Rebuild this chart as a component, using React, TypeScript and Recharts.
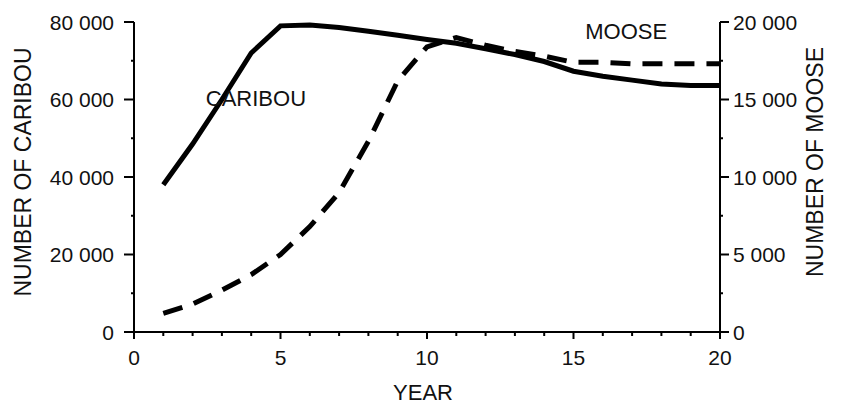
import { LineChart, Line, XAxis, YAxis, ReferenceDot } from 'recharts';

const years = [1, 2, 3, 4, 5, 6, 7, 8, 9, 10, 11, 12, 13, 14, 15, 16, 17, 18, 19, 20];
const caribou = [
  38000, 48500, 60000, 72000, 79000, 79200, 78600, 77600, 76600, 75500,
  74500, 73100, 71600, 69800, 67300, 66000, 65000, 64000, 63600, 63600,
];
const moose = [
  1200, 1800, 2700, 3700, 5000, 6800, 9000, 12300, 16200, 18400,
  19000, 18500, 18100, 17800, 17400, 17400, 17300, 17300, 17300, 17300,
];

const yearTicks = [0, 1, 2, 3, 4, 5, 6, 7, 8, 9, 10, 11, 12, 13, 14, 15, 16, 17, 18, 19, 20];
const caribouTicks = [0, 10000, 20000, 30000, 40000, 50000, 60000, 70000, 80000];
const mooseTicks = [0, 2500, 5000, 7500, 10000, 12500, 15000, 17500, 20000];

const data = years.map((year, i) => ({ year, caribou: caribou[i], moose: moose[i] }));

const FONT = '"Liberation Sans", Arial, Helvetica, sans-serif';

const fmt = (n: number) =>
  n >= 1000 ? `${Math.floor(n / 1000)} ${String(n % 1000).padStart(3, '0')}` : String(n);

const XTick = (props: any) => {
  const { x, y, payload } = props;
  const major = payload.value % 5 === 0;
  return (
    <g>
      <line x1={x} x2={x} y1={y} y2={y + (major ? 7 : 4)} stroke="#000" strokeWidth={2} />
      {major && (
        <text x={x} y={y + 33} textAnchor="middle" fontSize={21} fontFamily={FONT} fill="#111">
          {payload.value}
        </text>
      )}
    </g>
  );
};

const LeftTick = (props: any) => {
  const { x, y, payload } = props;
  const major = payload.value % 20000 === 0;
  return (
    <g>
      <line x1={x} x2={x - (major ? 10 : 3)} y1={y} y2={y} stroke="#000" strokeWidth={2} />
      {major && (
        <text x={x - 20} y={y} dy="0.36em" textAnchor="end" fontSize={21} fontFamily={FONT} fill="#111">
          {fmt(payload.value)}
        </text>
      )}
    </g>
  );
};

const RightTick = (props: any) => {
  const { x, y, payload } = props;
  const major = payload.value % 5000 === 0;
  return (
    <g>
      <line x1={x} x2={x + (major ? 9 : 3)} y1={y} y2={y} stroke="#000" strokeWidth={2} />
      {major && (
        <text x={x + 13} y={y} dy="0.36em" textAnchor="start" fontSize={21} fontFamily={FONT} fill="#111">
          {fmt(payload.value)}
        </text>
      )}
    </g>
  );
};

const SeriesLabel = (text: string) => (props: any) => {
  const { viewBox } = props;
  return (
    <text x={viewBox.x} y={viewBox.y} fontSize={22} fontFamily={FONT} fill="#111">
      {text}
    </text>
  );
};

export default function App() {
  return (
    <div style={{ position: 'absolute', left: 0, top: 0 }}>
      <LineChart width={846} height={406} data={data} margin={{ top: 22, right: 0, bottom: 0, left: 0 }}>
        <XAxis
          dataKey="year"
          type="number"
          domain={[0, 20]}
          ticks={yearTicks}
          interval={0}
          tick={<XTick />}
          tickLine={false}
          tickSize={0}
          tickMargin={0}
          height={74}
          axisLine={{ stroke: '#000', strokeWidth: 2 }}
          label={{
            content: (p: any) => (
              <text
                x={p.viewBox.x + p.viewBox.width / 2 - 4}
                y={p.viewBox.y + 68}
                textAnchor="middle"
                fontSize={22}
                fontFamily={FONT}
                fill="#111"
              >
                YEAR
              </text>
            ),
          }}
        />
        <YAxis
          yAxisId="left"
          orientation="left"
          domain={[0, 80000]}
          ticks={caribouTicks}
          interval={0}
          tick={<LeftTick />}
          tickLine={false}
          tickSize={0}
          tickMargin={0}
          width={134}
          axisLine={{ stroke: '#000', strokeWidth: 2 }}
          label={{
            content: (p: any) => {
              const cx = p.viewBox.x + 23;
              const cy = p.viewBox.y + p.viewBox.height / 2 - 5;
              return (
                <text
                  x={cx}
                  y={cy}
                  dy="0.36em"
                  transform={`rotate(-90 ${cx} ${cy})`}
                  textAnchor="middle"
                  fontSize={23}
                  fontFamily={FONT}
                  fill="#111"
                >
                  NUMBER OF CARIBOU
                </text>
              );
            },
          }}
        />
        <YAxis
          yAxisId="right"
          orientation="right"
          domain={[0, 20000]}
          ticks={mooseTicks}
          interval={0}
          tick={<RightTick />}
          tickLine={false}
          tickSize={0}
          tickMargin={0}
          width={126}
          axisLine={{ stroke: '#000', strokeWidth: 2 }}
          label={{
            content: (p: any) => {
              const cx = p.viewBox.x + 95;
              const cy = p.viewBox.y + p.viewBox.height / 2 - 15;
              return (
                <text
                  x={cx}
                  y={cy}
                  dy="0.36em"
                  transform={`rotate(-90 ${cx} ${cy})`}
                  textAnchor="middle"
                  fontSize={23}
                  fontFamily={FONT}
                  fill="#111"
                >
                  NUMBER OF MOOSE
                </text>
              );
            },
          }}
        />
        <Line
          yAxisId="left"
          type="linear"
          dataKey="caribou"
          stroke="#000"
          strokeWidth={5}
          dot={false}
          isAnimationActive={false}
        />
        <Line
          yAxisId="right"
          type="linear"
          dataKey="moose"
          stroke="#000"
          strokeWidth={5}
          strokeDasharray="20 12"
          dot={false}
          isAnimationActive={false}
        />
        <ReferenceDot yAxisId="left" x={2.45} y={58400} r={0} label={{ content: SeriesLabel('CARIBOU') }} />
        <ReferenceDot yAxisId="right" x={15.4} y={18900} r={0} label={{ content: SeriesLabel('MOOSE') }} />
      </LineChart>
    </div>
  );
}
